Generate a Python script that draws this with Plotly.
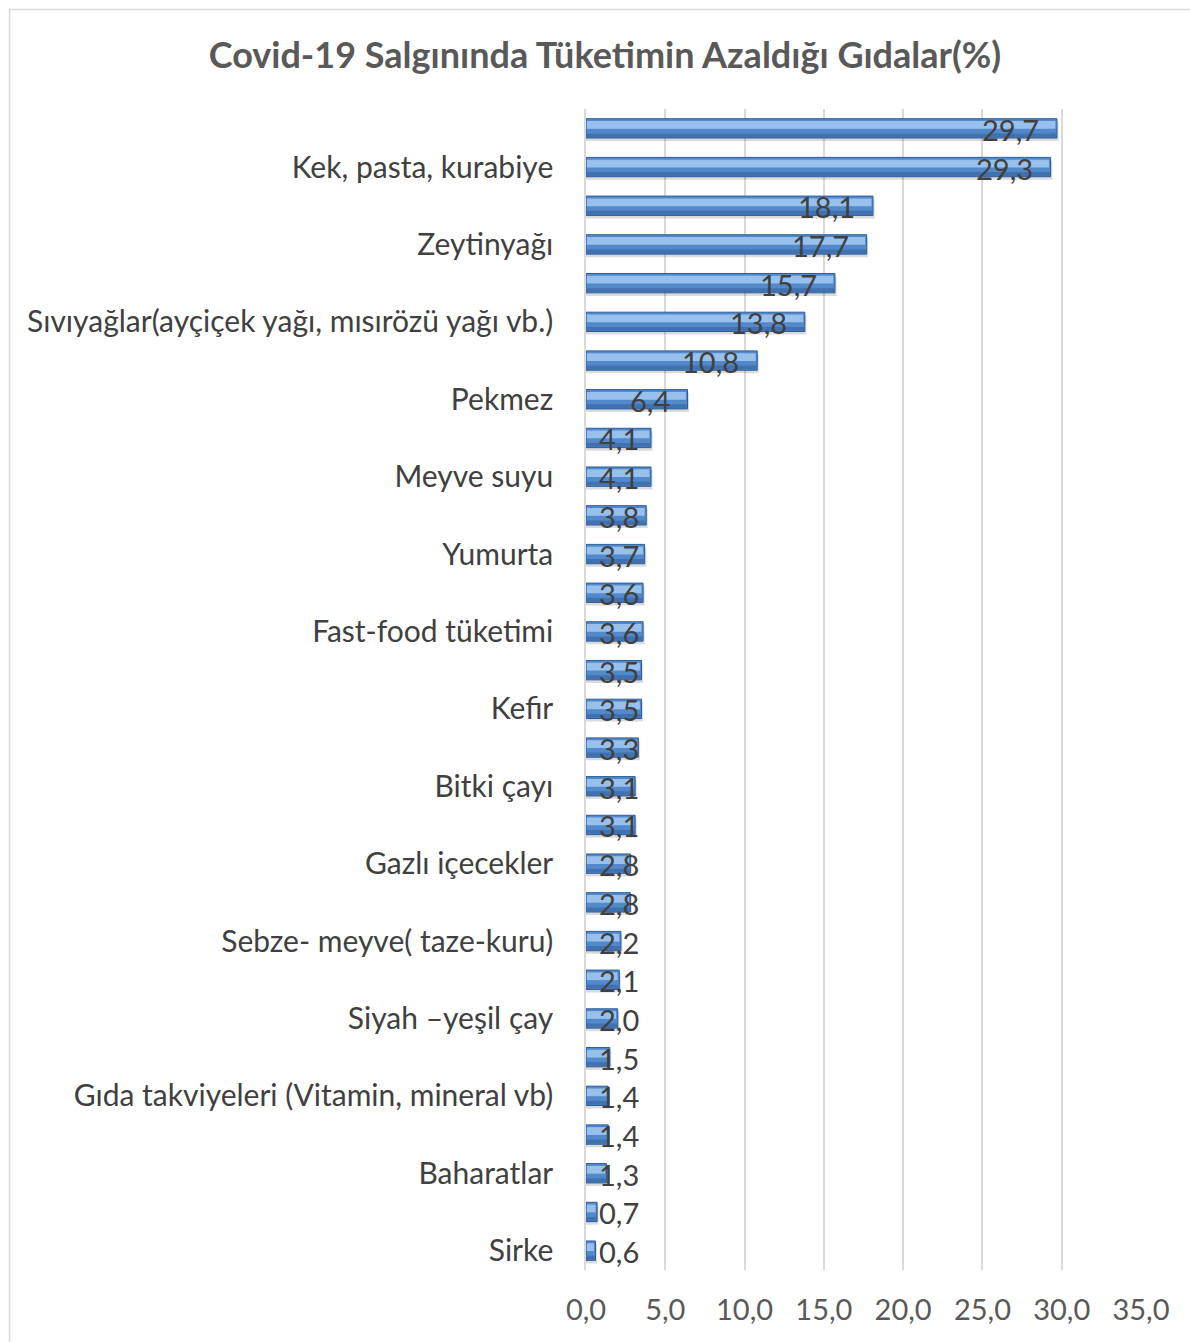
import plotly.graph_objects as go

# Categories top-to-bottom (every other category label is hidden in the original chart)
categories = [
    "(etiketsiz 1)", "Kek, pasta, kurabiye",
    "(etiketsiz 2)", "Zeytinyağı",
    "(etiketsiz 3)", "Sıvıyağlar(ayçiçek yağı, mısırözü yağı vb.)",
    "(etiketsiz 4)", "Pekmez",
    "(etiketsiz 5)", "Meyve suyu",
    "(etiketsiz 6)", "Yumurta",
    "(etiketsiz 7)", "Fast-food tüketimi",
    "(etiketsiz 8)", "Kefir",
    "(etiketsiz 9)", "Bitki çayı",
    "(etiketsiz 10)", "Gazlı içecekler",
    "(etiketsiz 11)", "Sebze- meyve( taze-kuru)",
    "(etiketsiz 12)", "Siyah –yeşil çay",
    "(etiketsiz 13)", "Gıda takviyeleri (Vitamin, mineral vb)",
    "(etiketsiz 14)", "Baharatlar",
    "(etiketsiz 15)", "Sirke",
]
values = [29.7, 29.3, 18.1, 17.7, 15.7, 13.8, 10.8, 6.4, 4.1, 4.1,
          3.8, 3.7, 3.6, 3.6, 3.5, 3.5, 3.3, 3.1, 3.1, 2.8,
          2.8, 2.2, 2.1, 2.0, 1.5, 1.4, 1.4, 1.3, 0.7, 0.6]
shown_labels = [c for c in categories if not c.startswith("(etiketsiz")]
x_ticks = [0, 5, 10, 15, 20, 25, 30, 35]
x_ticktext = ["0,0", "5,0", "10,0", "15,0", "20,0", "25,0", "30,0", "35,0"]

FONT = "Lato, 'Open Sans', sans-serif"

fig = go.Figure()

# shadow
fig.add_trace(go.Bar(
    x=[v + 0.1 for v in values], y=categories, orientation="h", width=0.5, offset=-0.17,
    marker=dict(color="rgba(0,0,0,0.14)", line=dict(width=0)),
    hoverinfo="skip", showlegend=False))
# main bar
fig.add_trace(go.Bar(
    x=values, y=categories, orientation="h", width=0.5, offset=-0.25,
    marker=dict(color="#5289cb", line=dict(color="#2f5d98", width=1)),
    showlegend=False))
# lower darker band
fig.add_trace(go.Bar(
    x=[max(v - 0.1, 0) for v in values], y=categories, orientation="h", width=0.1, offset=0.13,
    marker=dict(color="rgba(45,85,140,0.45)", line=dict(width=0)),
    base=0.05, hoverinfo="skip", showlegend=False))
# highlight (gradient effect)
fig.add_trace(go.Bar(
    x=[max(v - 0.15, 0) for v in values], y=categories, orientation="h", width=0.2, offset=-0.19,
    marker=dict(color="rgba(160,198,240,0.9)", line=dict(width=0)),
    base=0.05, hoverinfo="skip", showlegend=False))

# data labels
for cat, v in zip(categories, values):
    fig.add_annotation(
        x=max(v - 1.0, 3.45), y=cat, xref="x", yref="y",
        text=f"{v:.1f}".replace(".", ","), showarrow=False,
        xanchor="right", yanchor="middle", yshift=-1,
        font=dict(family=FONT, size=29, color="#404040"))

W, H = 1190, 1342
L, R, T, B = 586, 1141, 109, 1270

def px_x(p):
    return (p - L) / (R - L)

def px_y(p):
    return (B - p) / (B - T)

fig.add_shape(type="rect", xref="paper", yref="paper",
              x0=px_x(9.5), x1=px_x(1250), y0=px_y(1400), y1=px_y(9.5),
              line=dict(color="#d9d9d9", width=1.5), layer="below")

fig.update_layout(
    width=W, height=H,
    margin=dict(l=L, r=W - R, t=T, b=H - B),
    paper_bgcolor="white", plot_bgcolor="white",
    barmode="overlay",
    title=dict(text="<b>Covid-19 Salgınında Tüketimin Azaldığı Gıdalar(%)</b>",
               xref="container", yref="container", x=605 / W, y=1 - 55 / H,
               xanchor="center", yanchor="middle",
               font=dict(family=FONT, size=36, color="#595959")),
    xaxis=dict(range=[0, 35], tickvals=x_ticks, ticktext=x_ticktext,
               showgrid=True, gridcolor="#d9d9d9", gridwidth=1.5,
               zeroline=False, showline=False, ticks="",
               ticklabelstandoff=20,
               tickfont=dict(family=FONT, size=29, color="#595959")),
    yaxis=dict(type="category", categoryarray=categories, range=[29.5, -0.5],
               tickvals=shown_labels, ticktext=shown_labels,
               showgrid=False, zeroline=False, showline=True, linecolor="#d9d9d9",
               linewidth=1.5, ticks="", ticklabelstandoff=25,
               tickfont=dict(family=FONT, size=30, color="#404040")),
)

fig.write_html("out.html")
